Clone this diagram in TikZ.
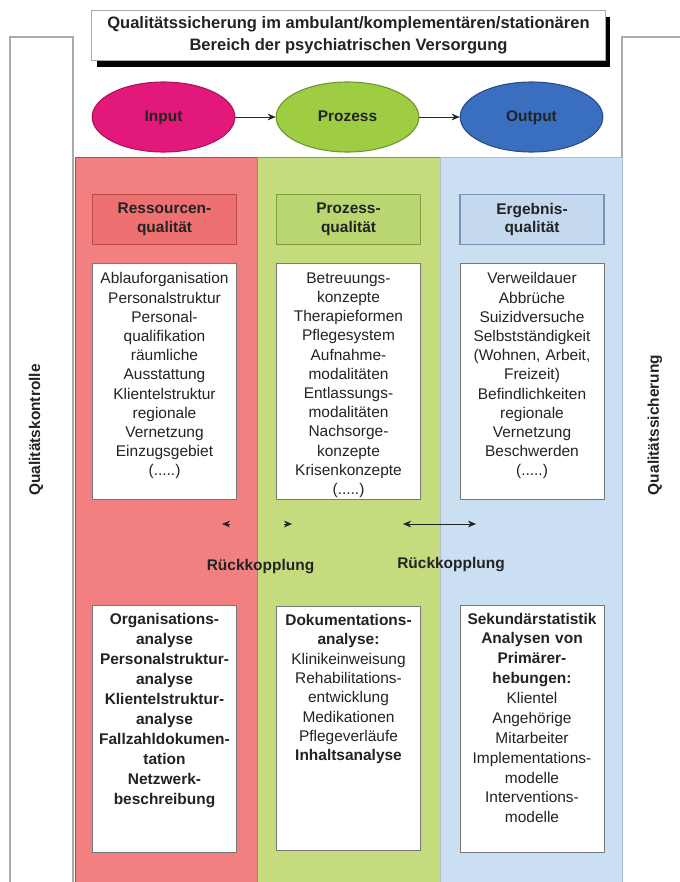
\documentclass[tikz,border=0pt]{standalone}
\usepackage{fontspec}
\setmainfont{Liberation Sans}
\usetikzlibrary{arrows.meta, shapes.geometric, shadows}

\definecolor{framegrey}{RGB}{170,170,170}
\definecolor{boxgrey}{RGB}{120,120,120}
\definecolor{textgrey}{RGB}{35,35,35}
\definecolor{inputmag}{RGB}{226,24,122}
\definecolor{inputdark}{RGB}{170,20,90}
\definecolor{prozgreen}{RGB}{158,204,66}
\definecolor{prozdark}{RGB}{105,150,40}
\definecolor{outblue}{RGB}{58,110,190}
\definecolor{outdark}{RGB}{40,75,140}
\definecolor{rescol}{RGB}{243,128,128}
\definecolor{reshead}{RGB}{238,112,112}
\definecolor{resline}{RGB}{185,75,75}
\definecolor{prozcol}{RGB}{196,220,126}
\definecolor{prozhead}{RGB}{186,214,112}
\definecolor{prozline}{RGB}{125,160,60}
\definecolor{ergcol}{RGB}{203,223,243}
\definecolor{erghead}{RGB}{196,216,238}
\definecolor{ergline}{RGB}{120,145,180}

\begin{document}
\begin{tikzpicture}[
            x = 0.75pt, y = -0.75pt, % pixel grid, origin top left
            > = {Stealth[length=6pt, width=5pt]}, % arrow head style
            node distance = 138pt, % distance between the ellipses
            semithick, % line style
            font = \fontsize{11.6}{14.4}\selectfont
        ]

        \tikzstyle{phase}=[
            ellipse,
            thick,
            minimum width = 107pt,
            minimum height = 52.5pt,
            text height = 8.5pt,
            text depth = 2.5pt,
            text = textgrey,
            font = \bfseries\fontsize{11.6}{14}\selectfont
        ]
        \tikzstyle{headbox}=[
            rectangle,
            thick,
            minimum width = 108pt,
            minimum height = 37pt,
            align = center,
            text = textgrey,
            font = \bfseries\fontsize{11.6}{13.9}\selectfont
        ]
        \tikzstyle{listbox}=[
            rectangle,
            draw = boxgrey,
            fill = white,
            thin,
            minimum width = 108pt,
            anchor = north
        ]
        \tikzstyle{listtext}=[
            text width = 106pt,
            align = center,
            anchor = north,
            inner sep = 0pt,
            text = textgrey
        ]
        \tikzstyle{feedback}=[
            text = textgrey,
            font = \bfseries\fontsize{11.6}{14}\selectfont
        ]
        \tikzstyle{link}=[
            draw = textgrey,
            fill = textgrey,
            thin
        ]

        \useasboundingbox (0,0) rectangle (680,882);

        % side panels and frame
        \draw[framegrey, line width=1.2pt] (10,882) -- (10,37) -- (73,37) -- (73,882);
        \draw[framegrey, line width=1.2pt] (680,37) -- (622,37) -- (622,882);

        % columns
        \filldraw[fill=rescol, draw=resline, thin] (75,157) rectangle (257,882);
        \filldraw[fill=prozcol, draw=prozline, thin] (257,157) rectangle (440,882);
        \filldraw[fill=ergcol, draw=ergline!60, thin] (440,157) rectangle (622,882);

        % title
        \node[draw=framegrey, fill=white, align=center, text=textgrey,
              minimum width=385pt, minimum height=37.5pt,
              drop shadow={shadow xshift=3.75pt, shadow yshift=-5.25pt, fill=black, opacity=1},
              font=\bfseries\fontsize{12.4}{16.5}\selectfont]
              (title) at (348.5,35)
              {Qualitätssicherung im ambulant/komplementären/stationären\\Bereich der psychiatrischen Versorgung};

        % phases
        \node[phase, fill=inputmag, draw=inputdark] (input) at (163.5,117) {Input};
        \node[phase, fill=prozgreen, draw=prozdark] (prozess) [right of=input] {Prozess};
        \node[phase, fill=outblue, draw=outdark] (output) [right of=prozess] {Output};

        \path[->, link] (input) edge (prozess);
        \path[->, link] (prozess) edge (output);

        % quality headers
        \node[headbox, fill=reshead, draw=resline] (reshd) at (164.5,219.5) {Ressourcen-\\qualität};
        \node[headbox, fill=prozhead, draw=prozline] (prozhd) at (348.5,219.5) {Prozess-\\qualität};
        \node[headbox, fill=erghead, draw=ergline] (erghd) at (532,219.5) {Ergebnis-\\qualität};

        % criteria boxes
        \node[listbox, minimum height=177pt] (reslist) at (164.5,263) {};
        \node[listbox, minimum height=177pt] (prozlist) at (348.5,263) {};
        \node[listbox, minimum height=177pt] (erglist) at (532,263) {};

        \node[listtext] (reslisttxt) at ([yshift=-7pt]reslist.north)
            {Ablauforganisation\\Personalstruktur\\Personal-\\qualifikation\\räumliche\\Ausstattung\\Klientelstruktur\\regionale\\Vernetzung\\Einzugsgebiet\\(.....)};
        \node[listtext] (prozlisttxt) at ([yshift=-7pt]prozlist.north)
            {Betreuungs-\\konzepte\\Therapieformen\\Pflegesystem\\Aufnahme-\\modalitäten\\Entlassungs-\\modalitäten\\Nachsorge-\\konzepte\\Krisenkonzepte\\(.....)};
        \node[listtext] (erglisttxt) at ([yshift=-7pt]erglist.north)
            {Verweildauer\\Abbrüche\\Suizidversuche\\Selbstständigkeit\\(Wohnen, Arbeit,\\Freizeit)\\Befindlichkeiten\\regionale\\Vernetzung\\Beschwerden\\(.....)};

        % feedback
        \coordinate (fbresL) at (222,524);
        \coordinate (fbprozR) at (292,524);
        \coordinate (fbprozL) at (403,524);
        \coordinate (fbergR) at (476,524);

        \draw[->, link] ([xshift=6pt]fbresL) -- (fbresL);
        \draw[->, link] ([xshift=-6pt]fbprozR) -- (fbprozR);
        \draw[<->, link] (fbprozL) -- (fbergR);

        \node[feedback] (fbres) at (260.5,567) {Rückkopplung};
        \node[feedback] (fberg) at (451,565) {Rückkopplung};

        % analysis boxes
        \node[listbox, minimum height=185pt] (resana) at (164.5,605) {};
        \node[listbox, minimum height=183pt] (prozana) at (348.5,606) {};
        \node[listbox, minimum height=185pt] (ergana) at (532,605) {};

        \node[listtext, font=\bfseries\fontsize{11.6}{15}\selectfont] (resanatxt) at ([yshift=-5.6pt]resana.north)
            {Organisations-\\analyse\\Personalstruktur-\\analyse\\Klientelstruktur-\\analyse\\Fallzahldokumen-\\tation\\Netzwerk-\\beschreibung};
        \node[listtext, font=\fontsize{11.6}{14.5}\selectfont] (prozanatxt) at ([yshift=-6pt]prozana.north)
            {\textbf{Dokumentations-}\\\textbf{analyse:}\\Klinikeinweisung\\Rehabilitations-\\entwicklung\\Medikationen\\Pflegeverläufe\\\textbf{Inhaltsanalyse}};
        \node[listtext, font=\bfseries\fontsize{11.6}{14.9}\selectfont] (erganatxt) at ([yshift=-5.6pt]ergana.north)
            {Sekundärstatistik\\Analysen von\\Primärer-\\hebungen:\\\mdseries Klientel\\\mdseries Angehörige\\\mdseries Mitarbeiter\\Implementations-\\modelle\\Interventions-\\modelle};

        % side labels
        \node[feedback, rotate=90] (kontrolle) at (36,430) {Qualitätskontrolle};
        \node[feedback, rotate=90] (sicherung) at (655,425) {Qualitätssicherung};

    \end{tikzpicture}
\end{document}
